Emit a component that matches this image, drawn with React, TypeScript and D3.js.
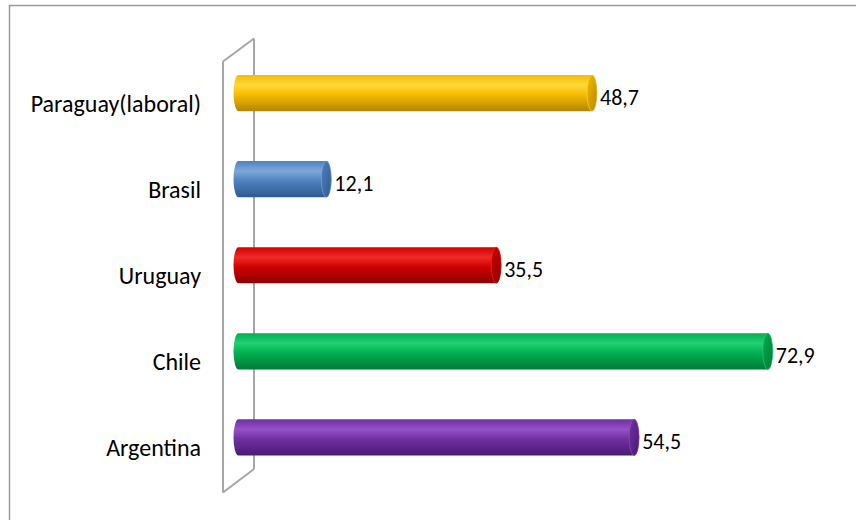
import React from "react";
import * as d3 from "d3";

const categories = ["Paraguay(laboral)", "Brasil", "Uruguay", "Chile", "Argentina"];
const values = [48.7, 12.1, 35.5, 72.9, 54.5];
const valueLabels = ["48,7", "12,1", "35,5", "72,9", "54,5"];
const colorLight = ["#FFD83A", "#7FA8DA", "#F02A2A", "#22D070", "#9650C8"];
const colorMain = ["#F5BC00", "#4F81BD", "#D00000", "#00B050", "#7030A0"];
const colorDark = ["#B38600", "#2E5A92", "#8A0000", "#007A36", "#4A1A72"];

const W = 856;
const H = 520;

export default function App() {
  const x = d3.scaleLinear().domain([0, 80]).range([238.5, 819.3]);
  const y = d3.scaleBand<string>().domain(categories).range([50, 480.5]).paddingInner(0.58).paddingOuter(0.29);
  const rx = 5;
  const depthX = 15.5;
  const depthY = 11.5;
  const wallTop = 50;
  const wallBot = 480.5;
  const x0 = x(0);
  const font = "Calibri, Carlito, Lato, 'Liberation Sans', sans-serif";

  return (
    <svg width={W} height={H} style={{ position: "absolute", left: 0, top: 0 }} fontFamily={font} fontWeight={400}>
      <defs>
        {categories.map((c, i) => (
          <linearGradient key={c} id={`g${i}`} x1="0" y1="0" x2="0" y2="1">
            <stop offset="0" stopColor={colorMain[i]} />
            <stop offset="0.28" stopColor={colorLight[i]} />
            <stop offset="0.55" stopColor={colorMain[i]} />
            <stop offset="1" stopColor={colorDark[i]} />
          </linearGradient>
        ))}
        {categories.map((c, i) => (
          <linearGradient key={c + "e"} id={`e${i}`} x1="0" y1="0" x2="1" y2="1">
            <stop offset="0" stopColor={colorMain[i]} />
            <stop offset="1" stopColor={colorDark[i]} />
          </linearGradient>
        ))}
      </defs>
      <rect x={9.5} y={5.5} width={W + 20} height={H + 20} fill="white" stroke="#9a9a9a" strokeWidth={1.5} />
      <g fill="none" stroke="#a6a6a6" strokeWidth={2}>
        <line x1={x0 - depthX} y1={wallTop + depthY} x2={x0 - depthX} y2={wallBot + depthY + 0.5} />
        <line x1={x0 + depthX} y1={wallTop - depthY} x2={x0 + depthX} y2={wallBot - depthY} />
        <line x1={x0 - depthX} y1={wallTop + depthY} x2={x0 + depthX} y2={wallTop - depthY} />
        <line x1={x0 - depthX} y1={wallBot + depthY + 0.5} x2={x0 + depthX} y2={wallBot - depthY} />
      </g>
      {categories.map((c, i) => {
        const top = y(c)!;
        const bw = y.bandwidth();
        const bot = top + bw;
        const cy = top + bw / 2;
        const ry = bw / 2;
        const x1 = x(values[i]);
        const body = `M${x0},${top} L${x1},${top} A${rx},${ry} 0 0 1 ${x1},${bot} L${x0},${bot} A${rx},${ry} 0 0 1 ${x0},${top} Z`;
        return (
          <g key={c}>
            <path d={body} fill={`url(#g${i})`} />
            <ellipse cx={x1} cy={cy} rx={rx} ry={ry} fill={`url(#e${i})`} stroke={colorLight[i]} strokeOpacity={0.6} strokeWidth={1} />
            <text x={x1 + rx + 3} y={cy + 4} fontSize={22} dominantBaseline="central" fill="#000">
              {valueLabels[i]}
            </text>
            <text x={201} y={cy + 10} fontSize={24} textAnchor="end" dominantBaseline="central" fill="#000">
              {c}
            </text>
          </g>
        );
      })}
    </svg>
  );
}
